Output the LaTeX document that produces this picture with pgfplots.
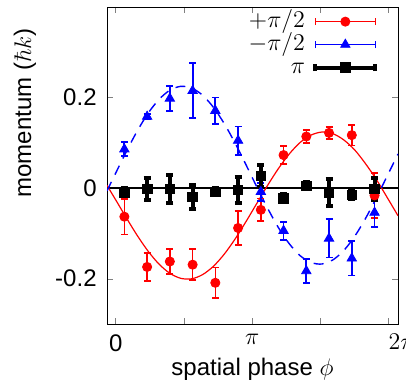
\documentclass[12pt,border=0pt]{standalone}
\usepackage[no-math]{fontspec}
\setmainfont{Liberation Sans}
\usepackage{pgfplots}
\pgfplotsset{compat=1.18}
\usepackage{pgfplotstable}

\pgfplotstableread{
x y e
0.200 -0.063 0.039
0.724 -0.174 0.031
1.247 -0.162 0.027
1.771 -0.169 0.034
2.294 -0.209 0.034
2.818 -0.088 0.038
3.342 -0.048 0.025
3.865 0.073 0.020
4.389 0.114 0.014
4.912 0.122 0.013
5.436 0.117 0.023
5.960 -0.016 0.050
}\redtab
\pgfplotstableread{
x y e
0.200 0.086 0.015
0.724 0.158 0.005
1.247 0.198 0.027
1.771 0.215 0.061
2.294 0.171 0.029
2.818 0.105 0.031
3.342 -0.008 0.020
3.865 -0.094 0.020
4.389 -0.183 0.027
4.912 -0.111 0.042
5.436 -0.155 0.038
5.960 -0.054 0.031
}\bluetab
\pgfplotstableread{
x y e
0.200 -0.009 0.009
0.724 -0.002 0.025
1.247 -0.002 0.031
1.771 -0.019 0.026
2.294 -0.008 0.008
2.818 -0.004 0.028
3.342 0.027 0.025
3.865 -0.022 0.008
4.389 0.005 0.008
4.912 -0.009 0.030
5.436 -0.015 0.008
5.960 -0.002 0.025
}\blacktab

\begin{document}
\begin{tikzpicture}
\begin{axis}[
  scale only axis,
  width=145.5pt, height=158.5pt,
  xmin=-0.2, xmax=6.5, ymin=-0.3, ymax=0.4,
  xtick={0,1.5708,3.14159,4.71239,6.28319},
  xticklabels={0,,$\pi$,,\rlap{$2\pi$}},
  ytick={-0.2,0,0.2},
  yticklabels={-0.2,0,0.2},
  tick align=inside,
  major tick length=3pt,
  xtick pos=both, ytick pos=both,
  xticklabel style={yshift=-1pt},
  yticklabel style={xshift=-1pt},
  xlabel={spatial phase $\phi$},
  ylabel={momentum ($\hbar k$)},
  xlabel style={at={(axis description cs:0.5,-0.142)}, anchor=center},
  ylabel style={at={(axis description cs:-0.282,0.666)}, anchor=center},
  legend plot pos=right,
  legend cell align=right,
  legend style={at={(axis description cs:0.951,1.004)}, anchor=north east,
    draw=none, fill=none, row sep=0pt, column sep=-1pt,
    nodes={text height=7.5pt, text depth=2pt, inner sep=1pt}},
]
\addplot[black, line width=1pt, forget plot] coordinates {(-0.2,0) (6.5,0)};
\addplot[red, line width=0.6pt, smooth, forget plot] coordinates {
(-0.2,0.0061) (0,-0.0258) (0.25,-0.0663) (0.5,-0.1051) (0.75,-0.1397) (1.0,-0.1680)
(1.25,-0.1882) (1.5,-0.1992) (1.75,-0.2002) (2.0,-0.1910) (2.25,-0.1726) (2.5,-0.1457)
(2.75,-0.1122) (3.0,-0.0739) (3.25,-0.0336) (3.5,0.0065) (3.75,0.0437) (4.0,0.0759)
(4.25,0.1011) (4.5,0.1173) (4.75,0.1239) (5.0,0.1203) (5.25,0.1066) (5.5,0.0847)
(5.75,0.0543) (6.0,0.0194) (6.25,-0.0205) (6.5,-0.0609)};
\addplot[blue, line width=0.7pt, smooth, dash pattern=on 5pt off 4pt, forget plot] coordinates {
(-0.2,-0.0059) (0,0.0332) (0.25,0.0817) (0.5,0.1268) (0.75,0.1659) (1.0,0.1962)
(1.25,0.2164) (1.5,0.2248) (1.75,0.2210) (2.0,0.2052) (2.25,0.1785) (2.5,0.1424)
(2.75,0.0993) (3.0,0.0516) (3.25,0.0026) (3.5,-0.0448) (3.75,-0.0877) (4.0,-0.1233)
(4.25,-0.1494) (4.5,-0.1644) (4.75,-0.1675) (5.0,-0.1585) (5.25,-0.1379) (5.5,-0.1069)
(5.75,-0.0673) (6.0,-0.0218) (6.25,0.0267) (6.5,0.0753)};

\addplot[red, only marks, mark=*, mark size=2.3pt,
  error bars/.cd, y dir=both, y explicit,
  error bar style={line width=0.8pt},
  error mark options={rotate=90, mark size=1.75pt, line width=0.8pt},
  /pgfplots/legend image code/.code={
    \path (-5pt,0pt);
    \draw[red, line width=0.8pt] (0pt,0pt) -- (30pt,0pt);
    \draw[red, line width=0.8pt] (0pt,-1.75pt) -- (0pt,1.75pt) (30pt,-1.75pt) -- (30pt,1.75pt);
    \draw[red, mark=*, mark size=2.3pt, only marks] plot coordinates {(15pt,0pt)};}
] table[x=x, y=y, y error=e] {\redtab};
\addlegendentry{$+\pi/2$}

\addplot[blue, only marks, mark=triangle*, mark size=2.7pt,
  error bars/.cd, y dir=both, y explicit,
  error bar style={line width=0.9pt},
  error mark options={rotate=90, mark size=1.75pt, line width=0.9pt},
  /pgfplots/legend image code/.code={
    \path (-5pt,0pt);
    \draw[blue, line width=0.8pt] (0pt,0pt) -- (30pt,0pt);
    \draw[blue, line width=0.8pt] (0pt,-1.75pt) -- (0pt,1.75pt) (30pt,-1.75pt) -- (30pt,1.75pt);
    \draw[blue, mark=triangle*, mark size=2.7pt, only marks] plot coordinates {(15pt,0pt)};}
] table[x=x, y=y, y error=e] {\bluetab};
\addlegendentry{$-\pi/2$}

\addplot[black, only marks, mark=square*, mark size=2.4pt,
  error bars/.cd, y dir=both, y explicit,
  error bar style={line width=2pt},
  error mark options={rotate=90, mark size=1.75pt, line width=2pt},
  /pgfplots/legend image code/.code={
    \path (-5pt,0pt);
    \draw[black, line width=2pt] (0pt,0pt) -- (30pt,0pt);
    \draw[black, line width=2pt] (0pt,-1.75pt) -- (0pt,1.75pt) (30pt,-1.75pt) -- (30pt,1.75pt);
    \draw[black, mark=square*, mark size=2.5pt, only marks] plot coordinates {(15pt,0pt)};}
] table[x=x, y=y, y error=e] {\blacktab};
\addlegendentry{$\pi$}
\end{axis}
\path ([shift={(-53.5pt,-32pt)}]current axis.south west) ([shift={(4pt,3.5pt)}]current axis.north east);
\end{tikzpicture}
\end{document}
